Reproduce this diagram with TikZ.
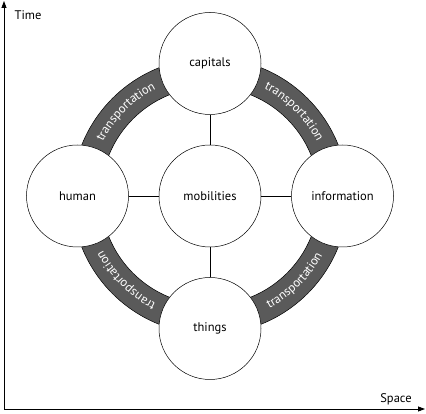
\documentclass[tikz,border=0pt]{standalone}
\usepackage{fontspec}
\setmainfont{PT Sans}
\usetikzlibrary{arrows.meta,decorations.text}
\definecolor{Band}{HTML}{5A5A5A}
\tikzset{
  >={Triangle[length=7pt,width=5pt]},
  blob/.style={circle,draw=black,line width=.5pt,fill=white,minimum size=102pt,inner sep=0pt,font=\fontsize{12.5}{15}\selectfont},
  link/.style={line width=.7pt,draw=black},
  axis/.style={->,line width=.8pt},
  band/.style={fill=Band,draw=black,line width=.5pt,even odd rule},
  axlab/.style={font=\fontsize{12.5}{15}\selectfont,inner sep=0pt},
  bandtext/.style={decorate,decoration={text along path,text align=center,
      text={|\fontsize{12.5}{15}\selectfont\color{white}|#1}}}
}
\begin{document}
\begin{tikzpicture}[x=1pt,y=1pt]
  \useasboundingbox (0,0) rectangle (426,414);
  % axes
  \coordinate (o) at (4,5);
  \coordinate (tend) at (4,413);
  \coordinate (send) at (425,5);
  \draw[axis] (o)--(tend);
  \draw[axis] (o)--(send);
  \node[axlab] (time) at (28,399) {Time};
  \node[axlab] (space) at (396,15) {Space};
  % ring and its labels
  \coordinate (c) at (210,218);
  \path[band] (c) circle[radius=138] (c) circle[radius=109];
  \path[bandtext=transportation] (c) ++(180:120) arc[start angle=180,end angle=90,radius=120];
  \path[bandtext=transportation] (c) ++(90:120) arc[start angle=90,end angle=0,radius=120];
  \path[bandtext=transportation] (c) ++(270:120) arc[start angle=270,end angle=180,radius=120];
  \path[bandtext=transportation] (c) ++(270:127) arc[start angle=270,end angle=360,radius=127];
  % circles
  \node[blob] (mob) at (c) {mobilities};
  \node[blob] (cap) at (210,350.5) {capitals};
  \node[blob] (thing) at (210,85.5) {things};
  \node[blob] (hum) at (77.5,218) {human};
  \node[blob] (info) at (342.5,218) {information};
  \draw[link] (mob)--(cap);
  \draw[link] (mob)--(thing);
  \draw[link] (mob)--(hum);
  \draw[link] (mob)--(info);
\end{tikzpicture}
\end{document}
